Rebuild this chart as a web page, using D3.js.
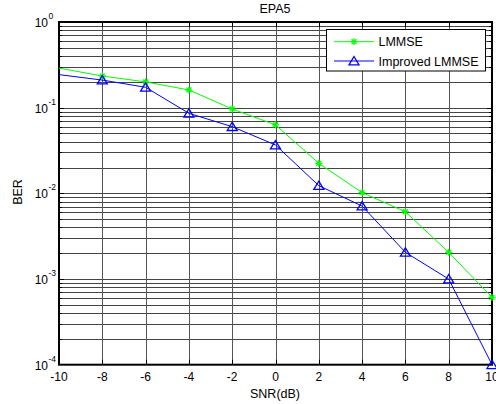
<!DOCTYPE html>
<html><head><meta charset="utf-8">
<script src="https://cdn.jsdelivr.net/npm/d3@7"></script>
<style>body{margin:0;background:#fff}svg{display:block}text{font-family:"Liberation Sans",Arial,sans-serif;fill:#000}</style>
</head><body>
<script>
const snr = [-10,-8,-6,-4,-2,0,2,4,6,8,10];
const lmmse = [0.29,0.234,0.20,0.161,0.0966,0.063,0.0224,0.0102,0.0061,0.00205,0.00061];
const improved = [0.243,0.21,0.173,0.086,0.060,0.0367,0.0123,0.0071,0.00205,0.001,0.0001];
const xTicks = [-10,-8,-6,-4,-2,0,2,4,6,8,10];
const yExps = [0,-1,-2,-3,-4];
const seriesNames = ["LMMSE","Improved LMMSE"];

const W=496,H=404;
const L=59,R=492,T=22,B=364.7;
const svg=d3.select("body").append("svg").attr("width",W).attr("height",H);
const x=d3.scaleLinear().domain([-10,10]).range([L,R]);
const y=d3.scaleLog().domain([1e-4,1]).range([B,T]);

const minors=[];
for(let e=-4;e<0;e++){for(let m=1;m<10;m++){minors.push(m*Math.pow(10,e));}}
minors.push(1);

const g=svg.append("g");
g.selectAll("line.hg").data(minors.filter(v=>v>1e-4&&v<1)).enter().append("line")
 .attr("x1",L).attr("x2",R).attr("y1",d=>Math.round(y(d))+0.5).attr("y2",d=>Math.round(y(d))+0.5)
 .attr("stroke","#444").attr("stroke-width",1);
g.selectAll("line.vg").data(xTicks.filter(v=>v>-10&&v<10)).enter().append("line")
 .attr("y1",T).attr("y2",B).attr("x1",d=>Math.round(x(d))+0.5).attr("x2",d=>Math.round(x(d))+0.5)
 .attr("stroke","#555").attr("stroke-width",1);

const tickV=minors.filter(v=>v>1e-4&&v<1);
g.selectAll("line.tl").data(tickV).enter().append("line")
 .attr("x1",L).attr("x2",d=>L+(Number.isInteger(Math.log10(d))?5:3)).attr("y1",d=>Math.round(y(d))+0.5).attr("y2",d=>Math.round(y(d))+0.5)
 .attr("stroke","#000").attr("stroke-width",1);
g.selectAll("line.tr").data(tickV).enter().append("line")
 .attr("x1",R).attr("x2",d=>R-(Number.isInteger(Math.log10(d))?5:3)).attr("y1",d=>Math.round(y(d))+0.5).attr("y2",d=>Math.round(y(d))+0.5)
 .attr("stroke","#000").attr("stroke-width",1);
g.selectAll("line.tb").data(xTicks).enter().append("line")
 .attr("x1",d=>Math.round(x(d))+0.5).attr("x2",d=>Math.round(x(d))+0.5).attr("y1",B).attr("y2",B-5)
 .attr("stroke","#000");
g.selectAll("line.tt").data(xTicks).enter().append("line")
 .attr("x1",d=>Math.round(x(d))+0.5).attr("x2",d=>Math.round(x(d))+0.5).attr("y1",T).attr("y2",T+5)
 .attr("stroke","#000");

g.append("rect").attr("x",L).attr("y",T).attr("width",R-L).attr("height",B-T)
 .attr("fill","none").attr("stroke","#000").attr("stroke-width",2);

const line=d3.line().x(d=>x(d[0])).y(d=>y(d[1]));
const d1=snr.map((s,i)=>[s,lmmse[i]]);
const d2=snr.map((s,i)=>[s,improved[i]]);
svg.append("path").datum(d1).attr("d",line).attr("fill","none").attr("stroke","#00ff00").attr("stroke-width",1);
svg.append("path").datum(d2).attr("d",line).attr("fill","none").attr("stroke","#0000ff").attr("stroke-width",1);

function star(sel,cx,cy){
  const r=3.5;
  const gg=sel.append("g").attr("stroke","#00ff00").attr("stroke-width",1.3);
  gg.append("line").attr("x1",cx-r).attr("x2",cx+r).attr("y1",cy).attr("y2",cy);
  gg.append("line").attr("x1",cx).attr("x2",cx).attr("y1",cy-r).attr("y2",cy+r);
  gg.append("line").attr("x1",cx-r*0.7).attr("x2",cx+r*0.7).attr("y1",cy-r*0.7).attr("y2",cy+r*0.7);
  gg.append("line").attr("x1",cx-r*0.7).attr("x2",cx+r*0.7).attr("y1",cy+r*0.7).attr("y2",cy-r*0.7);
}
function tri(sel,cx,cy){
  const h=4.5,w=5;
  sel.append("path").attr("d",`M${cx},${cy-h}L${cx+w},${cy+h*0.85}L${cx-w},${cy+h*0.85}Z`)
   .attr("fill","none").attr("stroke","#0000ff").attr("stroke-width",1.3);
}
// reference shows no markers at the left edge point
d1.filter(d=>d[0]>-10).forEach(d=>star(svg,x(d[0]),y(d[1])));
d2.filter(d=>d[0]>-10).forEach(d=>tri(svg,x(d[0]),y(d[1])));

svg.selectAll("text.xt").data(xTicks).enter().append("text")
 .attr("x",d=>x(d)).attr("y",381).attr("text-anchor","middle").attr("font-size","12px").text(d=>d);
yExps.forEach(e=>{
  svg.append("text").attr("x",48).attr("y",y(Math.pow(10,e))+5).attr("text-anchor","end").attr("font-size","12px").text("10");
  svg.append("text").attr("x",48.5).attr("y",y(Math.pow(10,e))-3).attr("font-size","8.5px").text(String(e));
});

svg.append("text").attr("x",275).attr("y",13).attr("text-anchor","middle").attr("font-size","12.5px").text("EPA5");
svg.append("text").attr("x",275).attr("y",398).attr("text-anchor","middle").attr("font-size","12.5px").text("SNR(dB)");
svg.append("text").attr("transform","translate(22,192) rotate(-90)").attr("text-anchor","middle").attr("font-size","12.5px").text("BER");

const lg=svg.append("g");
lg.append("rect").attr("x",326.5).attr("y",29.5).attr("width",159).attr("height",41.5).attr("fill","#fff").attr("stroke","#000").attr("stroke-width",1);
const rows=[41.7,61];
lg.append("line").attr("x1",334).attr("x2",374).attr("y1",rows[0]).attr("y2",rows[0]).attr("stroke","#00ff00");
star(lg,354,rows[0]);
lg.append("line").attr("x1",334).attr("x2",374).attr("y1",rows[1]).attr("y2",rows[1]).attr("stroke","#0000ff");
tri(lg,354,rows[1]);
seriesNames.forEach((n,i)=>lg.append("text").attr("x",378.5).attr("y",rows[i]+4.5).attr("font-size","12.5px").text(n));
</script>
</body></html>
